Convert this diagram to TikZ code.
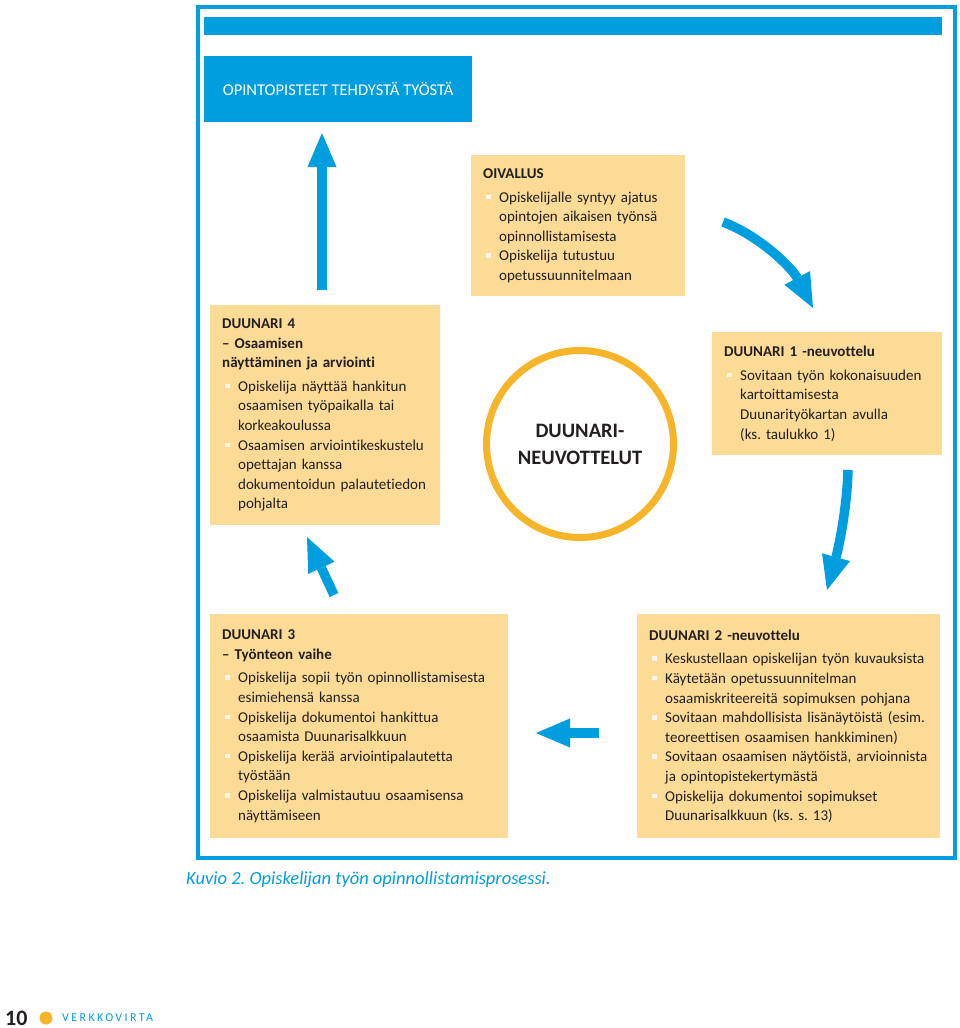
\documentclass[tikz,border=0pt]{standalone}
\usepackage{fontspec}
\setmainfont[Ligatures=NoCommon]{Carlito}
\usetikzlibrary{arrows.meta}
\frenchspacing

\definecolor{duublue}{RGB}{0,158,222}
\definecolor{duusand}{RGB}{252,219,150}
\definecolor{duuyellow}{RGB}{246,180,40}
\definecolor{duutext}{RGB}{35,31,32}
\definecolor{duubullet}{RGB}{255,248,232}

\newcommand{\bul}{\makebox[16pt][l]{\hspace{3pt}\textcolor{duubullet}{\rule[3pt]{4.5pt}{4.5pt}}}}
\newcommand{\ind}{\hspace*{16pt}}

\tikzset{
  infobox/.style={fill=duusand, anchor=north west, inner xsep=12pt, inner ysep=0pt,
    align=left, text=duutext, font=\fontsize{15}{19.6}\selectfont},
  bluebox/.style={fill=duublue, anchor=north west, inner sep=0pt, text=white,
    font=\fontsize{16.5}{18}\selectfont},
  flowarrow/.style={draw=duublue, line width=9.5pt,
    -{Triangle[length=34pt,width=29pt,line width=0pt]}},
}

\begin{document}
\begin{tikzpicture}[x=1pt,y=-1pt]
  \useasboundingbox (0,0) rectangle (960,1028);

  % frame and title bar
  \draw[duublue, line width=4pt] (198,7) rectangle (955,858);
  \node[bluebox, minimum width=738pt, minimum height=18pt] (topbar) at (204,17) {};
  \node[bluebox, minimum width=268pt, minimum height=66pt] (credits) at (204,56)
    {OPINTOPISTEET TEHDYSTÄ TYÖSTÄ};

  % hub
  \node[circle, draw=duuyellow, line width=7pt, minimum size=187pt, align=center,
    text=duutext, font=\bfseries\fontsize{20.5}{27}\selectfont] (hub) at (580,444)
    {DUUNARI-\\NEUVOTTELUT};

  % boxes
  \node[infobox, text width=190pt, minimum height=141pt] (insight) at (471,155)
    {\textbf{OIVALLUS}\\[4pt]
     \bul Opiskelijalle syntyy ajatus\\
     \ind opintojen aikaisen työnsä\\
     \ind opinnollistamisesta\\
     \bul Opiskelija tutustuu\\
     \ind opetussuunnitelmaan};

  \node[infobox, text width=206pt, minimum height=123pt] (duu1) at (712,332)
    {\textbf{DUUNARI 1 -neuvottelu}\\[4pt]
     \bul Sovitaan työn kokonaisuuden\\
     \ind kartoittamisesta\\
     \ind Duunarityökartan avulla\\
     \ind (ks. taulukko 1)};

  \node[infobox, text width=279pt, minimum height=224pt] (duu2) at (637,614)
    {\textbf{DUUNARI 2 -neuvottelu}\\[4pt]
     \bul Keskustellaan opiskelijan työn kuvauksista\\
     \bul Käytetään opetussuunnitelman\\
     \ind osaamiskriteereitä sopimuksen pohjana\\
     \bul Sovitaan mahdollisista lisänäytöistä (esim.\\
     \ind teoreettisen osaamisen hankkiminen)\\
     \bul Sovitaan osaamisen näytöistä, arvioinnista\\
     \ind ja opintopistekertymästä\\
     \bul Opiskelija dokumentoi sopimukset\\
     \ind Duunarisalkkuun (ks. s. 13)};

  \node[infobox, text width=274pt, minimum height=224pt] (duu3) at (210,614)
    {\textbf{DUUNARI 3}\\
     \textbf{– Työnteon vaihe}\\[4pt]
     \bul Opiskelija sopii työn opinnollistamisesta\\
     \ind esimiehensä kanssa\\
     \bul Opiskelija dokumentoi hankittua\\
     \ind osaamista Duunarisalkkuun\\
     \bul Opiskelija kerää arviointipalautetta\\
     \ind työstään\\
     \bul Opiskelija valmistautuu osaamisensa\\
     \ind näyttämiseen};

  \node[infobox, text width=206pt, minimum height=220pt] (duu4) at (210,305)
    {\textbf{DUUNARI 4}\\
     \textbf{– Osaamisen}\\
     \textbf{näyttäminen ja arviointi}\\[4pt]
     \bul Opiskelija näyttää hankitun\\
     \ind osaamisen työpaikalla tai\\
     \ind korkeakoulussa\\
     \bul Osaamisen arviointikeskustelu\\
     \ind opettajan kanssa\\
     \ind dokumentoidun palautetiedon\\
     \ind pohjalta};

  % arrow ends
  \coordinate (curveA) at (723,222);
  \coordinate (curveB) at (813,308);
  \coordinate (downA) at (848,470);
  \coordinate (downB) at (827,590);
  \coordinate (leftA) at (599,733);
  \coordinate (leftB) at (536,733);
  \coordinate (diagA) at (334,595);
  \coordinate (diagB) at (307,537);
  \coordinate (upA) at (322,290);
  \coordinate (upB) at (322,133);

  \draw[flowarrow] (curveA) .. controls (760,236) and (792,268) .. (curveB);
  \draw[flowarrow] (downA) .. controls (847,510) and (838,550) .. (downB);
  \draw[flowarrow] (leftA) -- (leftB);
  \draw[flowarrow] (diagA) -- (diagB);
  \draw[flowarrow] (upA) -- (upB);

  % caption and footer
  \node[anchor=west, inner sep=0pt, text=duublue,
    font=\itshape\fontsize{18.5}{20}\selectfont] (caption) at (186,880)
    {Kuvio 2. Opiskelijan työn opinnollistamisprosessi.};
  \node[anchor=west, inner sep=0pt, text=duutext,
    font=\bfseries\fontsize{22}{24}\selectfont] (pagenum) at (5,1018) {10};
  \fill[duuyellow] (46,1018) circle (6.5);
  \node[anchor=west, inner sep=0pt, text=duublue,
    font=\fontsize{12}{13}\selectfont\addfontfeature{LetterSpace=20}] (brand) at (62,1018)
    {VERKKOVIRTA};
\end{tikzpicture}
\end{document}
